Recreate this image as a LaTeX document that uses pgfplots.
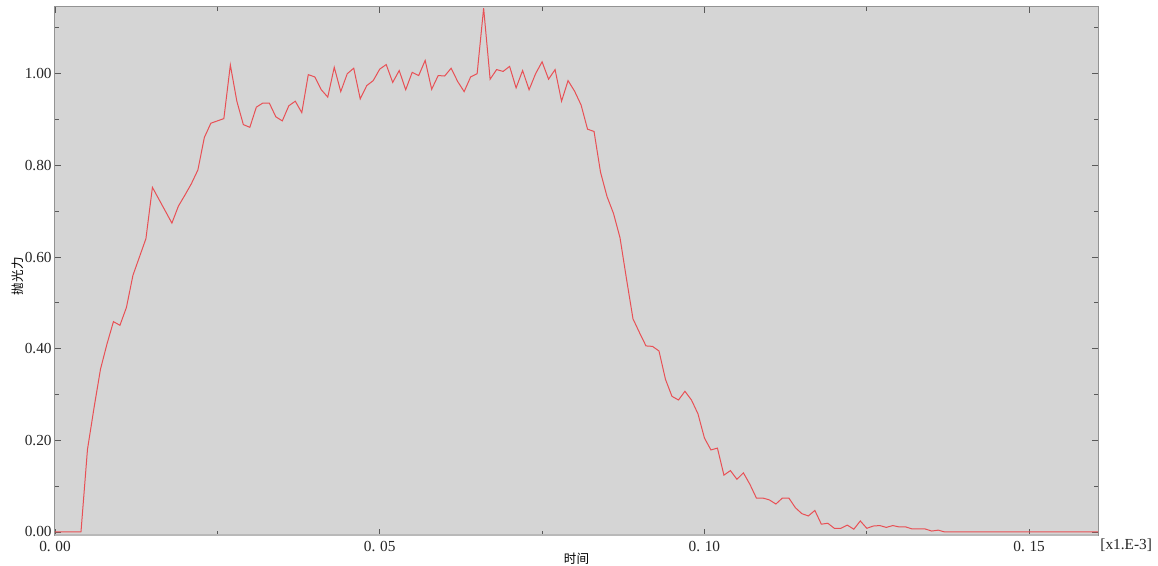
\documentclass[border=0pt]{standalone}
\usepackage{pgfplots}
\pgfplotsset{compat=1.18}
\usepackage{fontspec}
\setmainfont{Liberation Serif}
\newfontfamily\cjk{Noto Sans CJK SC}
\definecolor{bgc}{RGB}{213,213,213}
\definecolor{linec}{RGB}{232,80,85}
\begin{document}
\begin{tikzpicture}
\path[use as bounding box] (-27.5bp,-15.5bp) rectangle (551.5bp,267.5bp);
\begin{axis}[
 at={(0,0)}, anchor=south west,
 scale only axis, width=521.5bp, height=264bp,
 xmin=0, xmax=0.1606, ymin=-0.0066, ymax=1.1456,
 axis background/.style={fill=bgc},
 axis line style={draw=gray!85, line width=0.5bp},
 xtick={0,0.05,0.1,0.15},
 xticklabels={0.\kern0.3em00,0.\kern0.3em05,0.\kern0.3em10,0.\kern0.3em15},
 minor xtick={0.025,0.075,0.125},
 ytick={0,0.2,0.4,0.6,0.8,1.0},
 yticklabels={0.00,0.20,0.40,0.60,0.80,1.00},
 minor ytick={0.1,0.3,0.5,0.7,0.9,1.1},
 tick style={gray!70!black, line width=0.4bp},
 major tick length=3bp, minor tick length=2bp,
 ticklabel style={font=\fontsize{7.7}{8}\selectfont, text=black!85},
 yticklabel style={inner sep=0pt, anchor=east, xshift=-1.5bp},
 xticklabel style={inner sep=0pt, anchor=north, yshift=-3bp},
 xlabel={\cjk 时间},
 ylabel={\cjk 抛光力},
 xlabel style={at={(axis description cs:0.5,-0.0455)}, anchor=center, inner sep=0pt, font=\fontsize{6.3}{7}\selectfont},
 ylabel style={at={(axis description cs:-0.036,0.49)}, anchor=center, inner sep=0pt, font=\fontsize{6.3}{7}\selectfont},
 clip=false,
]
\draw[gray!55, line width=1.2bp] (axis description cs:0,0) -- (axis description cs:1,0);
\addplot[linec, line width=0.5bp, mark=none] table {
x y
0.000 0
0.001 0
0.002 0
0.003 0
0.004 0
0.005 0.18
0.006 0.27
0.007 0.355
0.008 0.41
0.009 0.459
0.010 0.451
0.011 0.49
0.012 0.56
0.013 0.60
0.014 0.64
0.015 0.752
0.016 0.726
0.017 0.70
0.018 0.674
0.019 0.711
0.020 0.735
0.021 0.76
0.022 0.79
0.023 0.861
0.024 0.892
0.025 0.897
0.026 0.902
0.027 1.019
0.028 0.94
0.029 0.889
0.030 0.883
0.031 0.927
0.032 0.936
0.033 0.936
0.034 0.906
0.035 0.897
0.036 0.930
0.037 0.940
0.038 0.915
0.039 0.998
0.040 0.993
0.041 0.965
0.042 0.949
0.043 1.014
0.044 0.961
0.045 1.000
0.046 1.012
0.047 0.945
0.048 0.974
0.049 0.985
0.050 1.010
0.051 1.020
0.052 0.981
0.053 1.007
0.054 0.965
0.055 1.003
0.056 0.996
0.057 1.029
0.058 0.966
0.059 0.996
0.060 0.995
0.061 1.012
0.062 0.983
0.063 0.961
0.064 0.993
0.065 1.000
0.066 1.143
0.067 0.988
0.068 1.009
0.069 1.005
0.070 1.016
0.071 0.969
0.072 1.007
0.073 0.965
0.074 1.000
0.075 1.026
0.076 0.988
0.077 1.009
0.078 0.940
0.079 0.985
0.080 0.962
0.081 0.932
0.082 0.879
0.083 0.874
0.084 0.785
0.085 0.732
0.086 0.695
0.087 0.642
0.088 0.552
0.089 0.465
0.090 0.435
0.091 0.406
0.092 0.405
0.093 0.395
0.094 0.333
0.095 0.296
0.096 0.288
0.097 0.307
0.098 0.288
0.099 0.258
0.100 0.205
0.101 0.179
0.102 0.183
0.103 0.124
0.104 0.134
0.105 0.115
0.106 0.129
0.107 0.104
0.108 0.074
0.109 0.074
0.110 0.070
0.111 0.061
0.112 0.074
0.113 0.074
0.114 0.053
0.115 0.040
0.116 0.035
0.117 0.047
0.118 0.017
0.119 0.019
0.120 0.008
0.121 0.008
0.122 0.015
0.123 0.006
0.124 0.024
0.125 0.008
0.126 0.013
0.127 0.014
0.128 0.010
0.129 0.014
0.130 0.011
0.131 0.011
0.132 0.0065
0.133 0.0065
0.134 0.0065
0.135 0.002
0.136 0.004
0.137 0
0.140 0
0.145 0
0.150 0
0.155 0
0.160 0
0.1606 0
};
\node[anchor=west, inner sep=0pt, font=\fontsize{7.7}{8}\selectfont, text=black!85] at (axis description cs:1.0019,-0.0189) {[x1.E-3]};
\end{axis}
\end{tikzpicture}
\end{document}
